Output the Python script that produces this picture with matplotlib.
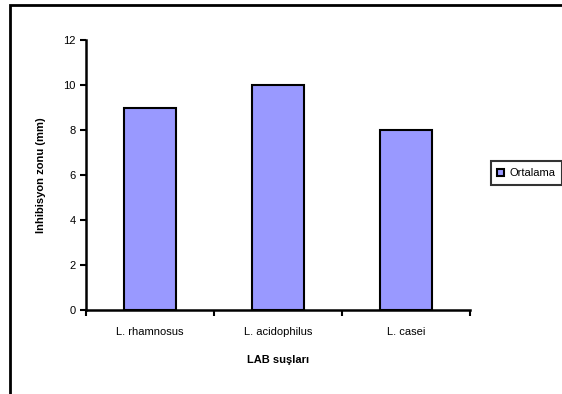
import matplotlib
matplotlib.use("Agg")
import matplotlib.pyplot as plt
from matplotlib.patches import Rectangle

# data
strains = ['L. rhamnosus', 'L. acidophilus', 'L. casei']
means = [9, 10, 8]
yticks = [0, 2, 4, 6, 8, 10, 12]

plt.rcParams['font.family'] = ['Liberation Sans', 'DejaVu Sans']

W, H = 562, 394
fig = plt.figure(figsize=(W / 100, H / 100), dpi=100)
ax = fig.add_axes([86 / W, 1 - 310 / H, (470 - 86) / W, (310 - 40) / H])

x = list(range(len(strains)))
ax.bar(x, means, width=0.41, color='#9999ff', edgecolor='black',
       linewidth=1.5, label='Ortalama', zorder=3)

ax.set_xlim(-0.5, len(strains) - 0.5)
ax.set_ylim(0, 12)
ax.set_yticks(yticks)
ax.set_xticks(x)
ax.set_xticklabels(strains, fontsize=8)
ax.tick_params(axis='x', length=0, pad=12)
ax.set_xticks([i - 0.5 for i in range(len(strains) + 1)], minor=True)
ax.tick_params(axis='x', which='minor', length=4, width=1.5, direction='out')
ax.tick_params(axis='y', labelsize=8, length=4, width=1.5, direction='out')

for s in ['top', 'right']:
    ax.spines[s].set_visible(False)
for s in ['left', 'bottom']:
    ax.spines[s].set_linewidth(1.8)

ax.set_xlabel('LAB suşları', fontsize=8, fontweight='bold', labelpad=13)
ax.set_ylabel('Inhibisyon zonu (mm)', fontsize=8, fontweight='bold', labelpad=12)

leg = fig.legend(loc='center left', bbox_to_anchor=(485 / W, 1 - 173 / H),
                 fontsize=8, frameon=True, fancybox=False, handlelength=0.6,
                 handleheight=0.6, handletextpad=0.5, borderpad=0.6)
leg.get_frame().set_edgecolor('black')
leg.get_frame().set_linewidth(1.5)

# outer chart border
fig.patches.append(Rectangle((10 / W, -0.1), 1.2, 1 - 5 / H + 0.1,
                             transform=fig.transFigure, fill=False,
                             edgecolor='black', linewidth=2, clip_on=False))

fig.savefig('out.png', dpi=100)
